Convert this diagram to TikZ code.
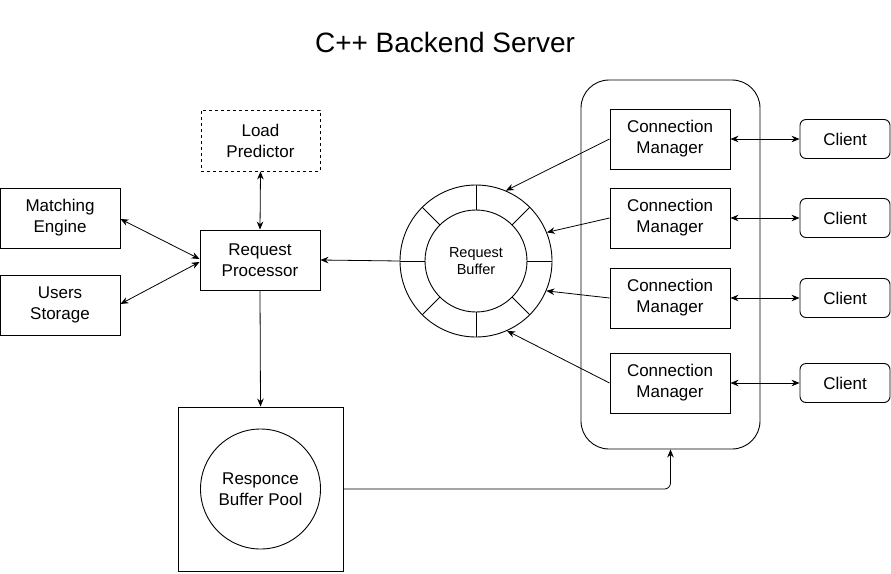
\documentclass[tikz,border=0pt]{standalone}
\usepackage{fontspec}
\setmainfont{Liberation Sans}
\usetikzlibrary{arrows.meta,calc}
\begin{document}
\begin{tikzpicture}[x=1pt,y=-1pt,
  box/.style={draw, line width=0.9pt, inner sep=0pt, align=center, font=\fontsize{17}{21}\selectfont},
  cbox/.style={box, rounded corners=6pt, minimum width=90pt, minimum height=39pt},
  sbox/.style={box, minimum width=120pt, minimum height=60pt},
  arr/.style={-{Stealth[length=8pt,width=6.5pt]}, line width=0.8pt},
  darr/.style={{Stealth[length=8pt,width=6.5pt]}-{Stealth[length=8pt,width=6.5pt]}, line width=0.8pt}]
\useasboundingbox (0,0) rectangle (891,573);
\node[font=\fontsize{28}{32}\selectfont] (title) at (445,42) {C++ Backend Server};
% left side
\node[sbox, dashed, minimum width=119pt, minimum height=61pt] (lp) at (260.5,140.5) {Load\\Predictor};
\node[sbox] (me) at (60,218) {Matching\\Engine};
\node[sbox] (us) at (60,305) {Users\\Storage};
\node[sbox] (rp) at (260,260) {Request\\Processor};
% response pool
\node[draw, line width=0.9pt, minimum width=165pt, minimum height=164pt, inner sep=0pt] (rsq) at (260.5,489) {};
\node[draw, circle, line width=0.9pt, minimum size=120pt, inner sep=0pt, align=center, font=\fontsize{17}{21}\selectfont] (rc) at (260.5,489) {Responce\\Buffer Pool};
% ring buffer
\node[draw, circle, line width=0.9pt, minimum size=152pt, inner sep=0pt] (ring) at (476,261) {};
\node[draw, circle, line width=0.9pt, minimum size=102pt, inner sep=0pt, align=center, font=\fontsize{14.5}{17.5}\selectfont] (rin) at (476,261) {Request\\Buffer};
\foreach \a in {0,45,...,315}
  \draw[line width=0.9pt] ([shift={(\a:51)}]ring.center) -- ([shift={(\a:76)}]ring.center);
% container
\node[draw, line width=0.9pt, rounded corners=28pt, minimum width=179pt, minimum height=369pt, inner sep=0pt] (cont) at (670.5,264.5) {};
\node[sbox] (cm1) at (670,139) {Connection\\Manager};
\node[sbox] (cm2) at (670,218) {Connection\\Manager};
\node[sbox] (cm3) at (670,298) {Connection\\Manager};
\node[sbox] (cm4) at (670,383) {Connection\\Manager};
\node[cbox] (c1) at (845,139) {Client};
\node[cbox] (c2) at (845,218) {Client};
\node[cbox] (c3) at (845,298) {Client};
\node[cbox] (c4) at (845,383) {Client};
% connectors
\draw[darr] (cm1.east) -- (c1.west);
\draw[darr] (cm2.east) -- (c2.west);
\draw[darr] (cm3.east) -- (c3.west);
\draw[darr] (cm4.east) -- (c4.west);
\draw[arr] (cm1.west) -- (ring.67);
\draw[arr] (cm2.west) -- (ring.22);
\draw[arr] (cm3.west) -- (ring.-23);
\draw[arr] (cm4.west) -- (ring.-66);
\draw[arr] (ring.west) -- (rp.east);
\draw[darr] (lp.south) -- (rp.north);
\draw[darr] (me.east |- 0,219) -- ($(rp.west)+(0,-1)$);
\draw[darr] (us.east |- 0,304) -- ($(rp.west)+(0,2)$);
\draw[arr] (rp.south) -- (rsq.north);
\draw[arr, rounded corners=6pt] (rsq.east) -- (rsq.east -| cont.south) -- (cont.south);
\end{tikzpicture}
\end{document}
